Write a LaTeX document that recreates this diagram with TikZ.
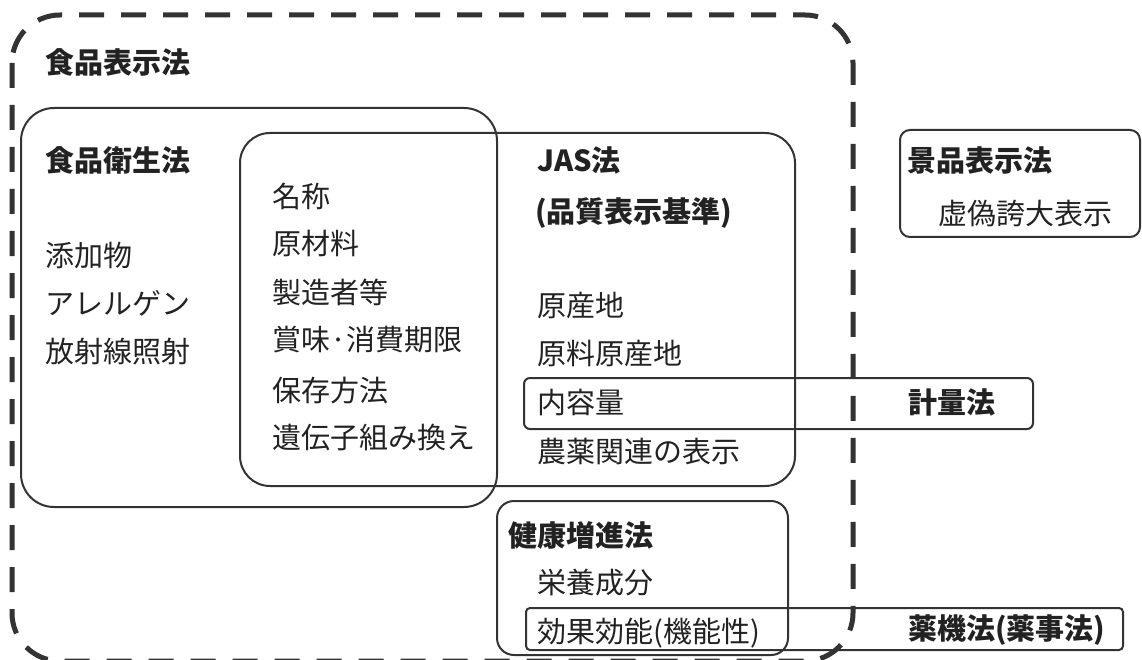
\documentclass[tikz,border=0pt]{standalone}
\usepackage{fontspec}
\setmainfont{Noto Sans CJK JP}
\definecolor{ink}{HTML}{222222}
\definecolor{edge}{HTML}{333333}
\tikzset{
  lbl/.style={anchor=west, inner sep=0pt, text=ink, font=\fontsize{29}{34}\selectfont},
  hdr/.style={lbl, font=\fontsize{29}{34}\selectfont\bfseries},
  box/.style={draw=edge, line width=2pt},
  outer/.style={draw=edge, line width=5pt, dash pattern=on 25pt off 17pt, rounded corners=48pt}
}
\begin{document}
\begin{tikzpicture}[x=1pt, y=-1pt]
\useasboundingbox (0,0) rectangle (1142,660);
% outer dashed frame (食品表示法)
\draw[outer] (12,15) rectangle (853,661);
% boxes
\draw[box, rounded corners=33pt] (21,108) rectangle (497,507);
\draw[box, rounded corners=30pt] (240,133) rectangle (795,486);
\draw[box, rounded corners=10pt] (900,130) rectangle (1140,237);
\draw[box, rounded corners=6pt] (524,378) rectangle (1033,429);
\draw[box, rounded corners=17pt] (497,501) rectangle (788,655);
\draw[box, rounded corners=4pt] (526,608) rectangle (1123,650);
% texts
\node[hdr] (hyouji) at (45,62) {食品表示法};
\node[hdr] (eisei) at (45,160) {食品衛生法};
\node[lbl] (tenka) at (45,255) {添加物};
\node[lbl] (allergen) at (45,303) {アレルゲン};
\node[lbl] (housya) at (45,352) {放射線照射};
\node[lbl] (meisyou) at (272,196) {名称};
\node[lbl] (genzai) at (272,243) {原材料};
\node[lbl] (seizou) at (272,292) {製造者等};
\node[lbl] (kigen) at (272,340) {賞味·消費期限};
\node[lbl] (hozon) at (272,390) {保存方法};
\node[lbl] (idenshi) at (272,438) {遺伝子組み換え};
\node[hdr] (jas) at (537,160) {JAS法};
\node[hdr] (hinshitsu) at (535,213) {(品質表示基準)};
\node[lbl] (gensanchi) at (537,305) {原産地};
\node[lbl] (genryou) at (537,353) {原料原産地};
\node[lbl] (naiyou) at (537,403) {内容量};
\node[lbl] (nouyaku) at (537,452) {農薬関連の表示};
\node[hdr] (keihin) at (907,160) {景品表示法};
\node[lbl] (kyogi) at (938,213) {虚偽誇大表示};
\node[hdr] (keiryou) at (908,402) {計量法};
\node[hdr] (kenkou) at (508,535) {健康増進法};
\node[lbl] (eiyou) at (537,583) {栄養成分};
\node[lbl] (kouka) at (537,633) {効果効能(機能性)};
\node[hdr] (yakki) at (908,630) {薬機法(薬事法)};
\end{tikzpicture}
\end{document}
